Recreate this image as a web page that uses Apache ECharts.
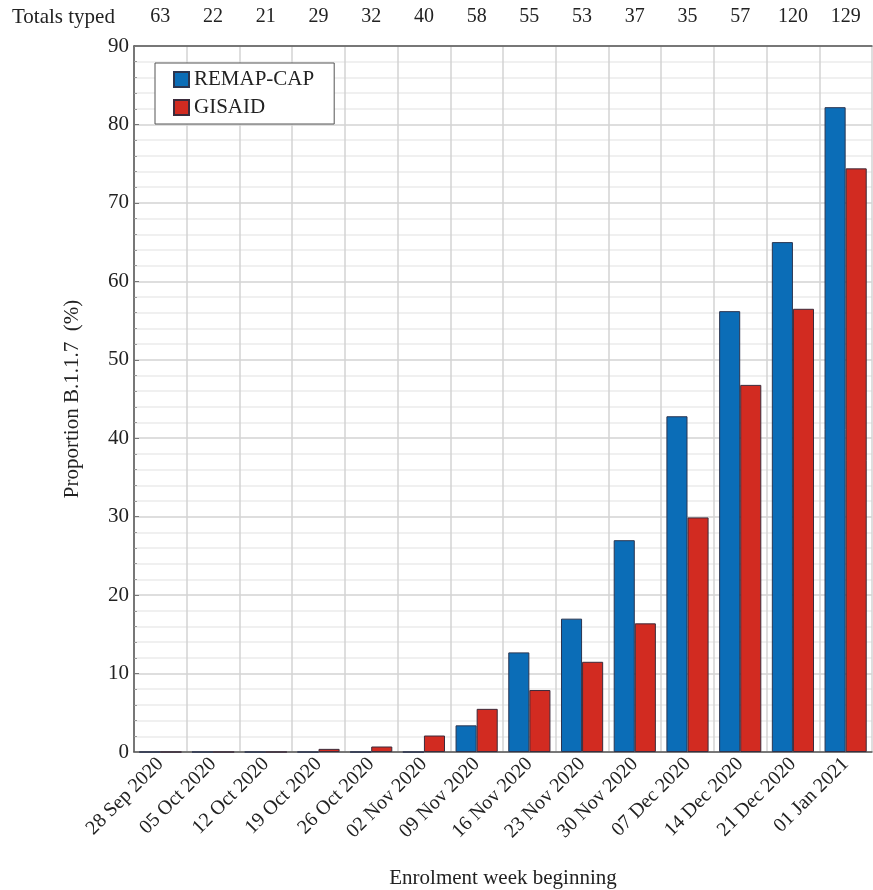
<!DOCTYPE html>
<html>
<head>
<meta charset="utf-8">
<script src="https://cdn.jsdelivr.net/npm/echarts@6/dist/echarts.min.js"></script>
<style>html,body{margin:0;padding:0;background:#fff;overflow:hidden}#c{width:873px;height:890px}</style>
</head>
<body>
<div id="c"></div>
<script>
const weeks = ['28 Sep 2020','05 Oct 2020','12 Oct 2020','19 Oct 2020','26 Oct 2020','02 Nov 2020','09 Nov 2020','16 Nov 2020','23 Nov 2020','30 Nov 2020','07 Dec 2020','14 Dec 2020','21 Dec 2020','01 Jan 2021'];
const totalsTyped = [63,22,21,29,32,40,58,55,53,37,35,57,120,129];
const remapCap = [0,0,0,0,0,0,3.4,12.7,17.0,27.0,42.8,56.2,65.0,82.2];
const gisaid = [0,0,0,0.4,0.7,2.1,5.5,7.9,11.5,16.4,29.9,46.8,56.5,74.4];
const yTicks = {min:0, max:90, interval:10};

const FONT = '"Liberation Serif", "DejaVu Serif", serif';
const chart = echarts.init(document.getElementById('c'));
chart.setOption({
  animation:false,
  textStyle:{fontFamily:FONT},
  graphic:[{type:'text', left:12, top:7, style:{text:'Totals typed', font:'21px '+FONT, fill:'#222'}}],
  legend:{
    left:155, top:63, orient:'vertical',
    borderColor:'#555', borderWidth:1, backgroundColor:'#fff',
    padding:[6,20,6,18], itemGap:7, itemWidth:15, itemHeight:15,
    textStyle:{fontFamily:FONT, fontSize:21, color:'#222'},
    data:[{name:'REMAP-CAP', icon:'rect'},{name:'GISAID', icon:'rect'}]
  },
  grid:{left:134, right:1, top:46, bottom:138, containLabel:false, outerBoundsMode:'none'},
  xAxis:[{
    type:'category', data:weeks, position:'bottom',
    axisLine:{show:true, lineStyle:{color:'#555', width:1.5}},
    axisTick:{show:false},
    splitLine:{show:true, lineStyle:{color:'#d3d3d3', width:1.5}},
    axisLabel:{rotate:45, fontSize:20, color:'#222', margin:9, interval:0, fontFamily:FONT},
    name:'Enrolment week beginning', nameLocation:'middle', nameGap:116,
    nameTextStyle:{fontSize:21, color:'#222', fontFamily:FONT}
  },{
    type:'category', data:totalsTyped.map(String), position:'top',
    axisLine:{show:true, lineStyle:{color:'#555', width:1.5}},
    axisTick:{show:false}, splitLine:{show:false},
    axisLabel:{fontSize:20, color:'#222', margin:19, interval:0, fontFamily:FONT}
  }],
  yAxis:{
    type:'value', min:yTicks.min, max:yTicks.max, interval:yTicks.interval,
    axisLine:{show:true, lineStyle:{color:'#555', width:1.5}},
    axisTick:{show:true, inside:true, length:5, lineStyle:{color:'#777'}},
    minorTick:{show:true, splitNumber:5, length:3, lineStyle:{color:'#999'}},
    splitLine:{show:true, lineStyle:{color:'#d3d3d3', width:1.5}},
    minorSplitLine:{show:true, lineStyle:{color:'#ececec', width:1.5}},
    axisLabel:{fontSize:21, color:'#222', margin:5, fontFamily:FONT},
    name:'Proportion B.1.1.7  (%)', nameLocation:'middle', nameGap:51,
    nameTextStyle:{fontSize:21, color:'#222', fontFamily:FONT}
  },
  series:[{
    name:'REMAP-CAP', type:'bar', data:remapCap, barGap:'0%', barCategoryGap:'20%',
    itemStyle:{color:'#0b6db7', borderColor:'#2b3550', borderWidth:1}
  },{
    name:'GISAID', type:'bar', data:gisaid, barGap:'0%', barCategoryGap:'20%',
    itemStyle:{color:'#d22b21', borderColor:'#3b2b3b', borderWidth:1}
  }]
});
</script>
</body>
</html>
